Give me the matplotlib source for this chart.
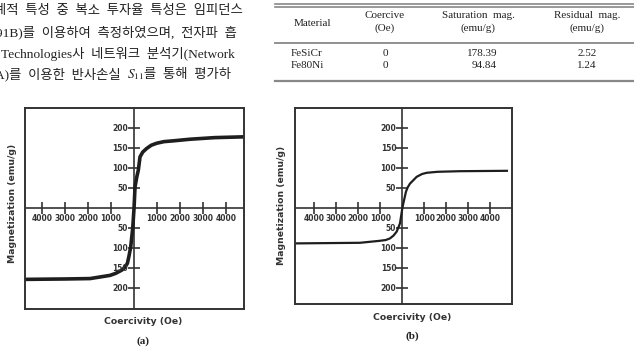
import matplotlib.pyplot as plt

# --- data ---
field_a = [-4740, -3000, -1910, -1040, -800, -535, -400, -290, -220, -145, -57, 0,
           43, 120, 187, 260, 380, 550, 750, 985, 1300, 1710, 2430, 3500, 4780]
mag_a = [-178, -177, -176, -168, -163, -155, -148, -138, -120, -97, -50, 0,
         53, 78, 95, 128, 140, 149, 157, 162, 166, 168, 172, 176, 178]

field_b = [-4880, -1930, -1020, -750, -560, -400, -255, -105, 0, 45, 168, 250,
           350, 655, 900, 1110, 1600, 2620, 4810]
mag_b = [-87.5, -86, -81, -79, -75, -68, -58, -37.5, 0, 12, 42, 53,
         62, 79, 86, 89, 91.5, 93, 94]

x_ticks = [-4000, -3000, -2000, -1000, 1000, 2000, 3000, 4000]
y_ticks = [-200, -150, -100, -50, 50, 100, 150, 200]

materials = ['FeSiCr', 'Fe80Ni']
coercive = ['0', '0']
saturation = ['178.39', '94.84']
residual = ['2.52', '1.24']

body_lines = [
    ['계적  특성  중  복소  투자율  특성은  임피던스'],
    ['91B)를  이용하여  측정하였으며,  전자파  흡'],
    ['Technologies사  네트워크  분석기(Network'],
    ['A)를  이용한  반사손실  ', '$S_{11}$', '를  통해  평가하'],
]

plt.rcParams['mathtext.fontset'] = 'stix'
W, H = 634, 353
fig = plt.figure(figsize=(W / 100, H / 100), dpi=100)
renderer = fig.canvas.get_renderer()


def px(x, y):
    return x / W, 1 - y / H


# body text (Korean, top left), pieces laid end to end
kfont = ['Liberation Serif', 'Noto Sans CJK KR']
line_x = [-6, -4, 1, -5]
for i, parts in enumerate(body_lines):
    x = line_x[i]
    for s in parts:
        t = fig.text(*px(x, 11 + 21.3 * i), s, family=kfont, fontsize=9.6,
                     color='#222222', ha='left', va='center')
        x += t.get_window_extent(renderer).width

# table (top right)
tcol = '#888888'
for yy, lw in [(3.5, 1.2), (6.5, 1.2), (42.5, 1.3), (80.5, 1.6)]:
    fig.add_artist(plt.Line2D([275 / W, 1], [1 - yy / H] * 2, color=tcol, lw=lw))
serif = dict(family='Liberation Serif', fontsize=8, color='#222222', va='center')
fig.text(*px(312, 23), 'Material', ha='center', **serif)
col_x = [385, 478, 587]
heads = [('Coercive', '(Oe)'), ('Saturation  mag.', '(emu/g)'), ('Residual  mag.', '(emu/g)')]
for cx, (h1, h2) in zip(col_x, heads):
    fig.text(*px(cx, 15), h1, ha='center', **serif)
    fig.text(*px(cx, 28), h2, ha='center', **serif)
for i, m in enumerate(materials):
    yy = 54 + 11.5 * i
    fig.text(*px(291, yy), m, ha='left', **serif)
    fig.text(*px(385, yy), coercive[i], ha='center', **serif)
    fig.text(*px(497, yy), saturation[i], ha='right', **serif)
    fig.text(*px(587, yy), residual[i], ha='center', **serif)


def hyst_panel(box, xlim, ylim, field, mag, lw, label_x, ylab_x, ylab_y, cap_y, tag):
    x0, y0, x1, y1 = box
    ax = fig.add_axes([x0 / W, 1 - y1 / H, (x1 - x0) / W, (y1 - y0) / H])
    ax.set_xlim(*xlim)
    ax.set_ylim(*ylim)
    ax.set_xticks([])
    ax.set_yticks([])
    for sp in ax.spines.values():
        sp.set_linewidth(1.4)
        sp.set_color('#333333')
    ax.axhline(0, color='#333333', lw=1.2)
    ax.axvline(0, color='#333333', lw=1.2)
    ax.plot(x_ticks, [0] * len(x_ticks), ls='none', marker='|', ms=8, mew=1.2, color='#333333')
    ax.plot([0] * len(y_ticks), y_ticks, ls='none', marker='_', ms=8, mew=1.2, color='#333333')
    tk = dict(fontsize=5.5, fontweight='bold', color='#333333', family='DejaVu Sans')
    for t in x_ticks:
        ax.annotate(str(abs(t)), (t, 0), xytext=(0, -10), textcoords='offset pixels',
                    ha='center', va='center', **tk)
    for t in y_ticks:
        ax.annotate(str(abs(t)), (0, t), xytext=(-6, 0), textcoords='offset pixels',
                    ha='right', va='center', **tk)
    ax.plot(field, mag, color='#1e1e1e', lw=lw, solid_capstyle='butt')
    lab = dict(fontsize=6.7, fontweight='bold', color='#333333', family='DejaVu Sans')
    fig.text(*px(ylab_x, ylab_y), 'Magnetization (emu/g)', rotation=90,
             ha='center', va='center', **lab)
    fig.text(*px(label_x, cap_y), 'Coercivity (Oe)', ha='center', va='center', **lab)
    fig.text(*px(label_x, cap_y + 19), tag, ha='center', va='center',
             family='Liberation Serif', fontweight='bold', fontsize=8, color='#222222')
    return ax


hyst_panel((25, 108, 244, 309), (-4740, 4780), (-252, 250), field_a, mag_a, 2.6,
           143, 13, 203, 322, '(a)')
hyst_panel((295, 108, 512, 304), (-4880, 4990), (-239, 251), field_b, mag_b, 1.6,
           412, 282, 205, 317, '(b)')

fig.savefig('out.png', dpi=100)
